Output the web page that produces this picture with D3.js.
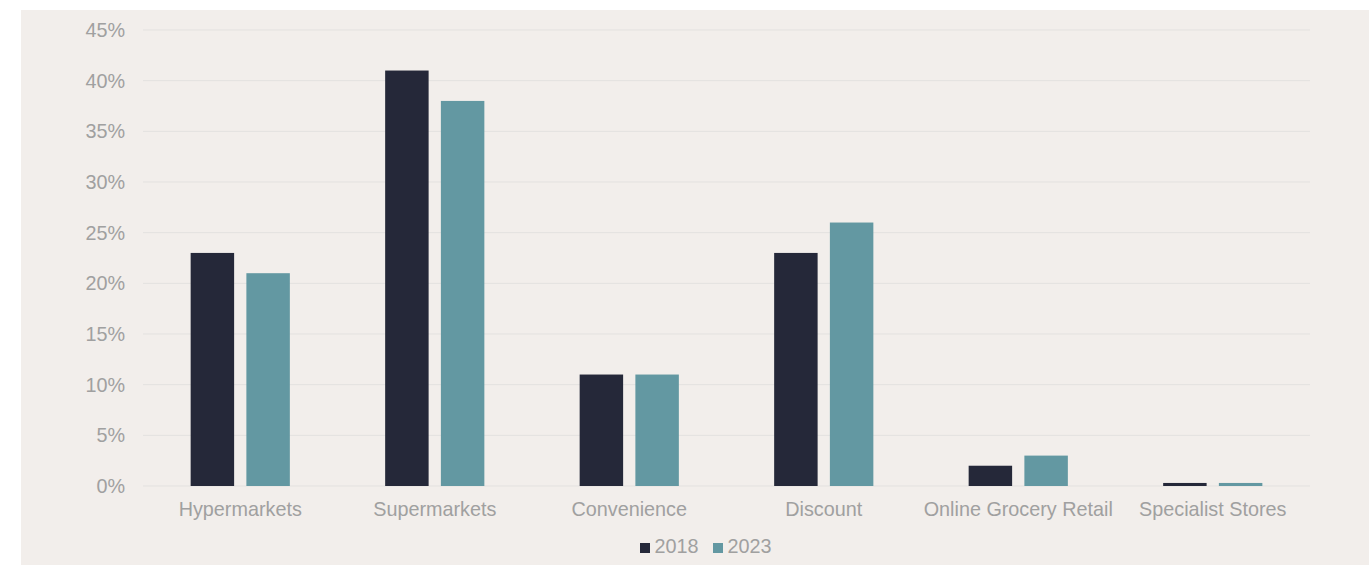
<!DOCTYPE html>
<html>
<head>
<meta charset="utf-8">
<script src="https://cdn.jsdelivr.net/npm/d3@7"></script>
<style>
  html, body { margin: 0; padding: 0; background: #ffffff; }
  svg { display: block; }
  text { font-family: "Liberation Sans", Arial, sans-serif; }
</style>
</head>
<body>
<svg id="chart" width="1369" height="565"></svg>
<script>
// Channel shares of grocery sales, 2018 vs 2023 (percent)
const categories = ["Hypermarkets", "Supermarkets", "Convenience", "Discount", "Online Grocery Retail", "Specialist Stores"];
const seriesNames = ["2018", "2023"];
const values2018 = [23, 41, 11, 23, 2, 0.3];
const values2023 = [21, 38, 11, 26, 3, 0.3];
const yTicks = [0, 5, 10, 15, 20, 25, 30, 35, 40, 45];

const colors = { "2018": "#252839", "2023": "#6398a2" };
const textColor = "#a0a0a0";
const fontSize = "19.8px";

const svg = d3.select("#chart");
const W = 1369, H = 565;

// panel background
svg.append("rect")
  .attr("x", 21).attr("y", 10)
  .attr("width", W - 21).attr("height", H - 10)
  .attr("fill", "#f2eeeb");

const margin = { left: 143, right: 59, top: 30, bottom: 79 };
const innerRight = W - margin.right;
const innerBottom = H - margin.bottom;

const x = d3.scaleBand()
  .domain(categories)
  .range([margin.left, innerRight])
  .paddingInner(0.49)
  .paddingOuter(0.245);

const xs = d3.scaleBand()
  .domain(seriesNames)
  .range([0, x.bandwidth()])
  .paddingInner(0.22);

const y = d3.scaleLinear()
  .domain([0, 45])
  .range([innerBottom, margin.top]);

// gridlines
svg.append("g")
  .selectAll("line")
  .data(yTicks)
  .join("line")
  .attr("x1", margin.left).attr("x2", innerRight)
  .attr("y1", d => y(d)).attr("y2", d => y(d))
  .attr("stroke", "#e3e1df")
  .attr("stroke-width", 1);

// y axis labels
const yAxis = d3.axisLeft(y)
  .tickValues(yTicks)
  .tickFormat(d => d + "%")
  .tickSize(0)
  .tickPadding(18);
const gy = svg.append("g")
  .attr("transform", `translate(${margin.left},0)`)
  .call(yAxis);
gy.select(".domain").remove();
gy.selectAll("text")
  .attr("fill", textColor)
  .style("font-size", fontSize);

// bars
const rows = categories.map((c, i) => ({ cat: c, vals: [
  { s: "2018", v: values2018[i] },
  { s: "2023", v: values2023[i] }
]}));

const groups = svg.append("g")
  .selectAll("g")
  .data(rows)
  .join("g")
  .attr("transform", d => `translate(${x(d.cat)},0)`);

groups.selectAll("rect")
  .data(d => d.vals)
  .join("rect")
  .attr("x", d => xs(d.s))
  .attr("width", xs.bandwidth())
  .attr("y", d => y(d.v))
  .attr("height", d => y(0) - y(d.v))
  .attr("fill", d => colors[d.s]);

// x axis labels
const xAxis = d3.axisBottom(x).tickSize(0).tickPadding(15.5);
const gx = svg.append("g")
  .attr("transform", `translate(0,${innerBottom})`)
  .call(xAxis);
gx.select(".domain").remove();
gx.selectAll("text")
  .attr("fill", textColor)
  .style("font-size", fontSize);

// legend
const legend = svg.append("g").attr("transform", "translate(640,553)");
const legendItems = legend.selectAll("g")
  .data(seriesNames)
  .join("g")
  .attr("transform", (d, i) => `translate(${i * 73},0)`);
legendItems.append("rect")
  .attr("x", 0).attr("y", -10)
  .attr("width", 10).attr("height", 10)
  .attr("fill", d => colors[d]);
legendItems.append("text")
  .attr("x", 14.5).attr("y", 0)
  .attr("fill", textColor)
  .style("font-size", fontSize)
  .text(d => d);
</script>
</body>
</html>
